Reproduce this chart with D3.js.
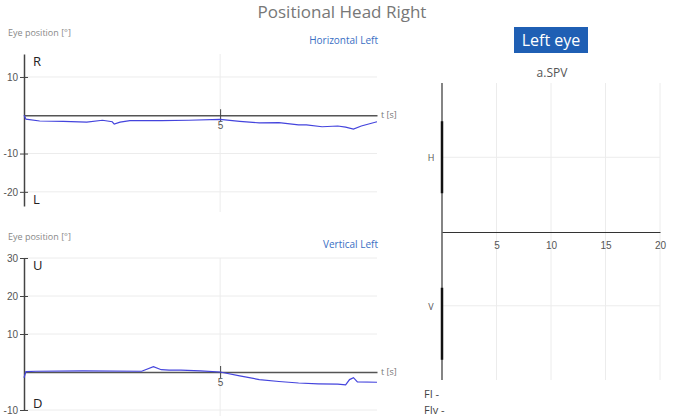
<!DOCTYPE html>
<html><head><meta charset="utf-8">
<script src="https://cdn.jsdelivr.net/npm/d3@7"></script>
<style>
body{margin:0;background:#fff;font-family:"Segoe UI","Open Sans",sans-serif;}
</style></head>
<body><svg id="c" width="684" height="418"></svg>
<script>
// horizontal eye position (deg) over time (s)
var horizT = [0, 0.05, 0.4, 1.0, 1.6, 2.0, 2.25, 2.3, 2.45, 2.7, 3.5, 4.2, 5.0, 5.5, 6.0, 6.5, 7.0, 7.2, 7.6, 8.0, 8.2, 8.4, 8.6, 9.0];
var horizV = [0, -1.0, -1.5, -1.6, -1.8, -1.3, -1.7, -2.3, -1.8, -1.4, -1.4, -1.3, -1.1, -1.6, -2.0, -1.9, -2.5, -2.5, -3.0, -2.8, -3.1, -3.6, -2.8, -1.7];
// vertical eye position (deg)
var vertT = [0, 0.05, 0.3, 1.5, 3.0, 3.3, 3.5, 3.7, 4.0, 4.5, 5.0, 5.5, 6.0, 6.5, 7.0, 7.5, 8.0, 8.2, 8.3, 8.4, 8.5, 9.0];
var vertV = [-1.5, 0.1, 0.2, 0.3, 0.2, 1.4, 0.6, 0.5, 0.5, 0.3, 0, -1.0, -2.0, -2.5, -2.9, -3.1, -3.2, -3.4, -2.0, -1.5, -2.6, -2.7];
var spvCats = ["H", "V"];
var spvTicks = [5, 10, 15, 20];

var svg = d3.select("#c");
var blue = "#4444dd";

svg.append("text").attr("x", 342).attr("y", 18).attr("text-anchor", "middle")
    .attr("font-size", 17).attr("fill", "#777").text("Positional Head Right");

function trace(top, yDomain, yTicks, ts, vs, name, upLbl, downLbl, yBottom) {
    var x = d3.scaleLinear().domain([0, 9]).range([24, 377]);
    var y = d3.scaleLinear().domain(yDomain).range([yBottom, top]);
    var g = svg.append("g");
    g.append("text").attr("x", 8).attr("y", top - 18).attr("font-size", 9).attr("fill", "#888").text("Eye position [°]");
    g.append("text").attr("x", 378).attr("y", top - 10).attr("text-anchor", "end").attr("font-size", 10).attr("fill", "#3a6fc4").text(name);
    // grid
    g.selectAll(".gy").data(yTicks).enter().append("line")
        .attr("x1", 24).attr("x2", 377).attr("y1", function(d){return y(d);}).attr("y2", function(d){return y(d);})
        .attr("stroke", "#ececec");
    g.append("line").attr("x1", x(5)).attr("x2", x(5)).attr("y1", y(yDomain[1])).attr("y2", y(yDomain[0]) + 6).attr("stroke", "#ececec");
    var ax = g.append("g").attr("transform", "translate(24,0)")
        .call(d3.axisLeft(y).tickValues(yTicks).tickSize(8).tickSizeOuter(0).tickFormat(function(d){return String(d);}));
    ax.select(".domain").attr("stroke", "#444").attr("stroke-width", 1.5);
    ax.selectAll(".tick line").attr("stroke", "#444").attr("transform", "translate(4,0)");
    ax.selectAll("text").attr("font-size", 10).attr("fill", "#555").attr("x", -6);
    // zero axis
    var xa = g.append("g").attr("transform", "translate(0," + y(0) + ")")
        .call(d3.axisBottom(x).tickValues([5]).tickSize(6).tickSizeOuter(0));
    xa.select(".domain").attr("stroke", "#555").attr("stroke-width", 1.5);
    xa.selectAll(".tick line").attr("stroke", "#444").attr("y1", -6).attr("y2", 6);
    xa.selectAll("text").attr("font-size", 10).attr("fill", "#555").attr("y", 7);
    g.append("text").attr("x", 381).attr("y", y(0) + 3).attr("font-size", 9).attr("fill", "#777").text("t [s]");
    g.append("text").attr("x", 33).attr("y", top + 12).attr("font-size", 13).attr("fill", "#222").text(upLbl);
    g.append("text").attr("x", 33).attr("y", yBottom - 2).attr("font-size", 13).attr("fill", "#222").text(downLbl);
    var line = d3.line().x(function(d){return x(d[0]);}).y(function(d){return y(d[1]);});
    g.append("path").datum(d3.zip(ts, vs)).attr("d", line).attr("fill", "none").attr("stroke", blue).attr("stroke-width", 1.2);
}

trace(54, [-23.7, 16], [10, -10, -20], horizT, horizV, "Horizontal Left", "R", "L", 206);
trace(258, [-10, 30], [30, 20, 10, -10], vertT, vertV, "Vertical Left", "U", "D", 410);

// right panel
svg.append("rect").attr("x", 514).attr("y", 27).attr("width", 74).attr("height", 26).attr("fill", "#1f5fb4");
svg.append("text").attr("x", 551).attr("y", 46).attr("text-anchor", "middle").attr("font-size", 16).attr("fill", "#fff").text("Left eye");
svg.append("text").attr("x", 552).attr("y", 77).attr("text-anchor", "middle").attr("font-size", 12).attr("fill", "#555").text("a.SPV");

var sx = d3.scaleLinear().domain([0, 20]).range([442, 660]);
var sy = d3.scaleBand().domain(spvCats).range([83, 380]);
var mid = function(d){ return sy(d) + sy.bandwidth()/2; };
var rg = svg.append("g");
rg.selectAll(".vg").data(spvTicks).enter().append("line")
    .attr("x1", function(d){return sx(d);}).attr("x2", function(d){return sx(d);})
    .attr("y1", 83).attr("y2", 380).attr("stroke", "#ececec");
rg.selectAll(".hg").data(spvCats).enter().append("line")
    .attr("x1", 442).attr("x2", 660)
    .attr("y1", mid).attr("y2", mid).attr("stroke", "#ececec");
rg.append("line").attr("x1", 442).attr("x2", 442).attr("y1", 83).attr("y2", 380).attr("stroke", "#333").attr("stroke-width", 1.2);
rg.selectAll(".seg").data(spvCats).enter().append("line")
    .attr("x1", 442).attr("x2", 442)
    .attr("y1", function(d){return mid(d) - (d === "H" ? 36 : 18);})
    .attr("y2", function(d){return mid(d) + (d === "H" ? 36 : 54);})
    .attr("stroke", "#111").attr("stroke-width", 2.5);
rg.selectAll(".cl").data(spvCats).enter().append("text")
    .attr("x", 431).attr("y", function(d){return mid(d) + 4;})
    .attr("text-anchor", "middle").attr("font-size", 9).style("fill", "#555").text(function(d){return d;});
var sxa = rg.append("g").attr("transform", "translate(0,232)")
    .call(d3.axisBottom(sx).tickValues(spvTicks).tickSize(0).tickSizeOuter(0));
sxa.select(".domain").attr("stroke", "#333").attr("stroke-width", 1.2);
sxa.selectAll("text").attr("font-size", 10).attr("fill", "#555").attr("y", 10);

svg.append("text").attr("x", 424).attr("y", 398).attr("font-size", 11).attr("fill", "#444").text("FI -");
svg.append("text").attr("x", 424).attr("y", 414).attr("font-size", 11).attr("fill", "#444").text("FIv -");
</script></body></html>
